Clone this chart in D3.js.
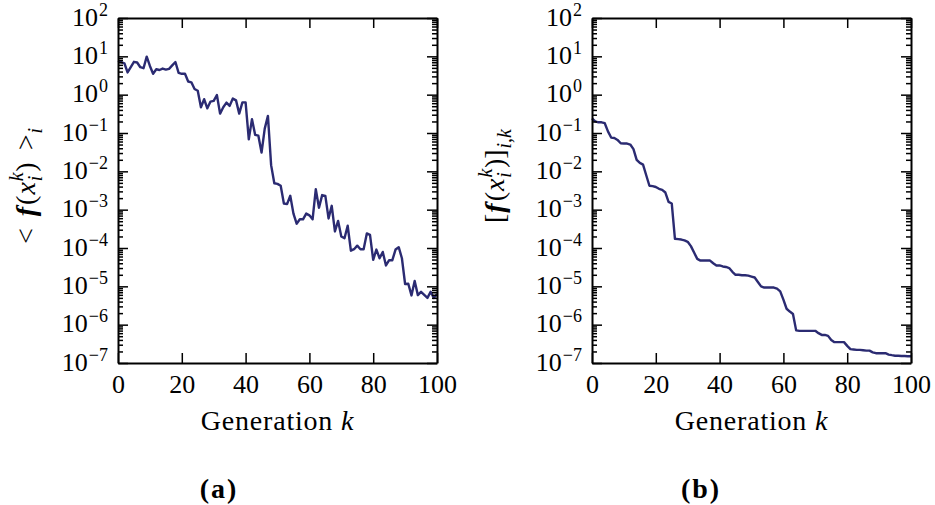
<!DOCTYPE html>
<html lang="en">
<head>
<meta charset="UTF-8">
<title>Fitness over generations</title>
<script src="https://d3js.org/d3.v7.min.js"></script>
<style>
    body { margin: 0; background: #fff; }
    svg text { font-family: "Liberation Serif", "DejaVu Serif", serif; fill: #000; }
    .axis .domain { stroke: #000; stroke-width: 2; }
    .axis .tick line { stroke: #000; stroke-width: 1.5; }
</style>
</head>
<body>
<div id="chart"></div>
<script>
// generation index 0..100
const generations = d3.range(0, 101);

// (a) mean fitness of the population per generation
const meanFitness = [
    7.6, 7.1, 6.6, 3.8, 5.2, 7.2, 6.9, 5.2, 4.9, 9.8,
    5.6, 3.5, 4.6, 4.4, 4.8, 4.5, 4.7, 5.8, 7.1, 3.7,
    3.5, 3.5, 2.2, 2.1, 1.4, 1.26, 0.47, 0.76, 0.44, 0.66,
    0.69, 0.98, 0.32, 0.47, 0.62, 0.51, 0.79, 0.71, 0.32, 0.63,
    0.63, 0.068, 0.23, 0.089, 0.085, 0.031, 0.13, 0.28, 0.0145, 0.0049,
    0.0047, 0.0042, 0.00145, 0.0014, 0.0023, 0.00079, 0.00043, 0.00056, 0.00056, 0.00079,
    0.00071, 0.00056, 0.0034, 0.00112, 0.0024, 0.0023, 0.00059, 0.00126, 0.00027, 0.00051,
    0.0002, 0.00018, 0.00038, 8.5e-5, 9.3e-5, 1.15e-4, 9.3e-5, 9.3e-5, 2.4e-4, 2.2e-4,
    4.9e-5, 9.1e-5, 5.4e-5, 7.9e-5, 3.5e-5, 4.8e-5, 4.8e-5, 9.1e-5, 1.05e-4, 5.4e-5,
    1.15e-5, 1.17e-5, 5.8e-6, 1.38e-5, 5.9e-6, 7.2e-6, 6.0e-6, 5.0e-6, 7.2e-6, 5.0e-6,
    6.3e-6
];

// (b) best fitness found so far
const bestFitness = [
    0.24, 0.20, 0.19, 0.19, 0.18, 0.11, 0.076, 0.074, 0.066, 0.054,
    0.053, 0.053, 0.050, 0.038, 0.020, 0.0166, 0.015, 0.0079, 0.0042, 0.0041,
    0.0039, 0.0035, 0.0033, 0.0028, 0.0016, 0.00145, 1.74e-4, 1.70e-4, 1.66e-4, 1.58e-4,
    1.45e-4, 1.12e-4, 7.6e-5, 5.2e-5, 4.7e-5, 4.7e-5, 4.7e-5, 4.7e-5, 4.0e-5, 3.5e-5,
    3.5e-5, 3.3e-5, 3.2e-5, 3.0e-5, 2.4e-5, 2.0e-5, 2.0e-5, 1.95e-5, 1.95e-5, 1.9e-5,
    1.8e-5, 1.7e-5, 1.3e-5, 1.0e-5, 9.3e-6, 9.3e-6, 9.3e-6, 9.3e-6, 8.7e-6, 7.4e-6,
    4.5e-6, 2.6e-6, 2.2e-6, 1.9e-6, 7.1e-7, 6.9e-7, 6.9e-7, 6.9e-7, 6.9e-7, 6.9e-7,
    6.9e-7, 6.0e-7, 5.4e-7, 5.4e-7, 5.1e-7, 4.0e-7, 3.5e-7, 3.5e-7, 3.5e-7, 3.5e-7,
    2.8e-7, 2.3e-7, 2.25e-7, 2.2e-7, 2.2e-7, 2.15e-7, 2.1e-7, 2.1e-7, 1.9e-7, 1.8e-7,
    1.8e-7, 1.8e-7, 1.8e-7, 1.66e-7, 1.6e-7, 1.55e-7, 1.55e-7, 1.52e-7, 1.52e-7, 1.5e-7,
    1.5e-7
];

const xTicks = [0, 20, 40, 60, 80, 100];
const yExponents = [-7, -6, -5, -4, -3, -2, -1, 0, 1, 2];
const xLabel = "Generation ";
const panelLetters = ["(a)", "(b)"];

const width = 935, height = 505;
const plotTop = 18, plotBottom = 363, plotWidth = 319;
const lineColor = "#2b2b72";
const fs = 26, fsSmall = 18, fsLabel = 28, fsLabelSmall = 20;

const majorY = yExponents.map(e => Math.pow(10, e));
const minorY = [];
yExponents.slice(0, -1).forEach(e => {
    for (let m = 2; m <= 9; m++) minorY.push(m * Math.pow(10, e));
});

// pieces of the y labels: text, style, baseline shift (px), dx (px)
const labelA = [
    { t: "<" },
    { t: "f", b: true, it: true, dx: 12 },
    { t: "(", dx: 2 },
    { t: "x", it: true, dx: 1 },
    { t: "k", it: true, small: true, shift: -12, dx: 1 },
    { t: "i", it: true, small: true, shift: 7, dx: -9 },
    { t: ")", dx: 4 },
    { t: ">", dx: 12 },
    { t: "i", it: true, small: true, shift: 7, dx: 1 }
];
const labelB = [
    { t: "[" },
    { t: "f", b: true, it: true, dx: 1 },
    { t: "(", dx: 2 },
    { t: "x", it: true, dx: 1 },
    { t: "k", it: true, small: true, shift: -12, dx: 1 },
    { t: "i", it: true, small: true, shift: 7, dx: -9 },
    { t: ")]", dx: 4 },
    { t: "i,k", it: true, small: true, shift: 7, dx: 1 }
];

const panels = [
    { left: 118, values: meanFitness, ylabel: labelA, ylabelX: 35, ylabelY: 186, letterX: 219 },
    { left: 592, values: bestFitness, ylabel: labelB, ylabelX: 504, ylabelY: 176, letterX: 701 }
];

const svg = d3.select("#chart").append("svg")
    .attr("width", width)
    .attr("height", height);

function mathText(sel, parts) {
    let cur = 0;
    parts.forEach(p => {
        const shift = p.shift || 0;
        sel.append("tspan")
            .attr("dy", shift - cur)
            .attr("dx", p.dx || 0)
            .style("font-weight", p.b ? "bold" : null)
            .style("font-style", p.it ? "italic" : null)
            .style("font-size", (p.small ? fsLabelSmall : fsLabel) + "px")
            .text(p.t);
        cur = shift;
    });
}

panels.forEach((p, pi) => {
    const x = d3.scaleLinear().domain([0, 100]).range([p.left, p.left + plotWidth]);
    const y = d3.scaleLog().domain([1e-7, 1e2]).range([plotBottom, plotTop]);
    const g = svg.append("g");

    const line = d3.line()
        .x((d, i) => x(generations[i]))
        .y(d => y(d));

    g.append("path")
        .datum(p.values)
        .attr("fill", "none")
        .attr("stroke", lineColor)
        .attr("stroke-width", 2.4)
        .attr("stroke-linejoin", "round")
        .attr("d", line);

    // bottom axis with labels
    const bottom = g.append("g")
        .attr("class", "axis")
        .attr("transform", `translate(0,${plotBottom})`)
        .call(d3.axisBottom(x).tickValues(xTicks).tickSizeInner(-10).tickSizeOuter(0).tickPadding(12));
    bottom.selectAll("text").style("font-size", fs + "px");

    g.append("g")
        .attr("class", "axis")
        .attr("transform", `translate(0,${plotTop})`)
        .call(d3.axisTop(x).tickValues(xTicks).tickSizeInner(-10).tickSizeOuter(0).tickFormat(""));

    // left axis: major + minor
    const left = g.append("g")
        .attr("class", "axis")
        .attr("transform", `translate(${p.left},0)`)
        .call(d3.axisLeft(y).tickValues(majorY).tickSizeInner(-10).tickSizeOuter(0).tickPadding(10).tickFormat(""));
    left.selectAll(".tick text").each(function(d) {
        const t = d3.select(this).attr("dy", "7px");
        t.append("tspan").style("font-size", fs + "px").text("10");
        t.append("tspan").style("font-size", fsSmall + "px").attr("dy", -10).attr("dx", 1)
            .text(String(Math.round(Math.log10(d))).replace("-", "\u2212"));
    });
    g.append("g")
        .attr("class", "axis")
        .attr("transform", `translate(${p.left},0)`)
        .call(d3.axisLeft(y).tickValues(minorY).tickSizeInner(-5).tickSizeOuter(0).tickFormat(""))
        .select(".domain").remove();

    // right axis
    g.append("g")
        .attr("class", "axis")
        .attr("transform", `translate(${p.left + plotWidth},0)`)
        .call(d3.axisRight(y).tickValues(majorY).tickSizeInner(-10).tickSizeOuter(0).tickFormat(""));
    g.append("g")
        .attr("class", "axis")
        .attr("transform", `translate(${p.left + plotWidth},0)`)
        .call(d3.axisRight(y).tickValues(minorY).tickSizeInner(-5).tickSizeOuter(0).tickFormat(""))
        .select(".domain").remove();

    // x label
    const xl = g.append("text")
        .attr("x", p.left + plotWidth / 2)
        .attr("y", 430)
        .attr("text-anchor", "middle")
        .style("font-size", fsLabel + "px")
        .style("letter-spacing", "0.8px");
    xl.append("tspan").text(xLabel);
    xl.append("tspan").style("font-style", "italic").text("k");

    // y label
    const yl = g.append("text")
        .attr("transform", `translate(${p.ylabelX},${p.ylabelY}) rotate(-90)`)
        .attr("text-anchor", "middle");
    mathText(yl, p.ylabel);

    // panel letter
    g.append("text")
        .attr("x", p.letterX)
        .attr("y", 498)
        .attr("text-anchor", "middle")
        .style("font-size", fsLabel + "px")
        .style("font-weight", "bold")
        .style("letter-spacing", "2px")
        .text(panelLetters[pi]);
});
</script>
</body>
</html>
